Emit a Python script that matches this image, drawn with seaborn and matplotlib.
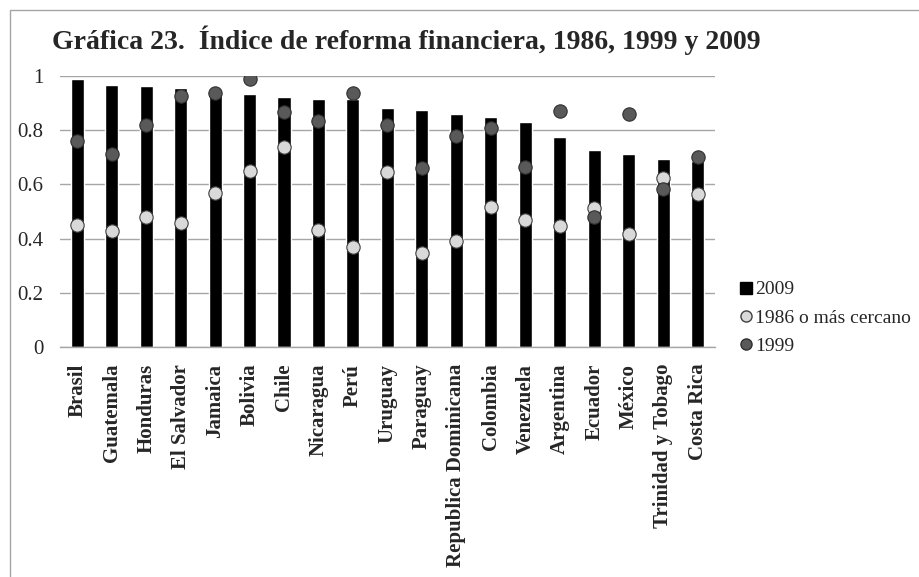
import numpy as np
import pandas as pd
import seaborn as sns
import matplotlib.pyplot as plt
from matplotlib.lines import Line2D
from matplotlib.patches import Rectangle

paises = ['Brasil', 'Guatemala', 'Honduras', 'El Salvador', 'Jamaica', 'Bolivia',
          'Chile', 'Nicaragua', 'Perú', 'Uruguay', 'Paraguay', 'Republica Dominicana',
          'Colombia', 'Venezuela', 'Argentina', 'Ecuador', 'México',
          'Trinidad y Tobago', 'Costa Rica']
v2009 = [0.99, 0.967, 0.963, 0.957, 0.95, 0.934, 0.924, 0.914, 0.915, 0.883,
         0.875, 0.861, 0.849, 0.829, 0.774, 0.728, 0.711, 0.692, 0.685]
v1986 = [0.450, 0.429, 0.479, 0.456, 0.569, 0.649, 0.737, 0.432, 0.370, 0.645,
         0.346, 0.392, 0.517, 0.468, 0.448, 0.512, 0.417, 0.622, 0.563]
v1999 = [0.760, 0.712, 0.820, 0.926, 0.938, 0.990, 0.867, 0.834, 0.936, 0.819,
         0.659, 0.779, 0.808, 0.665, 0.871, 0.479, 0.858, 0.584, 0.700]

df = pd.DataFrame({'pais': paises, 'v2009': v2009, 'v1986': v1986, 'v1999': v1999})

sns.set_style('white')
plt.rcParams['font.family'] = ['Liberation Serif', 'DejaVu Serif']

fig = plt.figure(figsize=(9.2, 5.77), dpi=100)
ax = fig.add_axes([0.0652, 0.3986, 0.7118, 0.4697])

sns.barplot(data=df, x='pais', y='v2009', color='black', width=0.38,
            saturation=1, ax=ax, zorder=2)
sns.stripplot(data=df, x='pais', y='v1986', jitter=False, color='#d9d9d9',
              size=9.6, edgecolor='#404040', linewidth=0.8, ax=ax, zorder=3)
sns.stripplot(data=df, x='pais', y='v1999', jitter=False, color='#595959',
              size=9.6, edgecolor='#303030', linewidth=0.8, ax=ax, zorder=4)

n = len(paises)
ax.set_xlim(-0.5, n - 0.5)
ax.set_ylim(0, 1)
ax.set_yticks(np.arange(0, 1.01, 0.2))
ax.set_yticklabels(['0', '0.2', '0.4', '0.6', '0.8', '1'], fontsize=15)
ax.yaxis.grid(True, color='#a6a6a6', linewidth=1)
ax.set_axisbelow(True)
ax.tick_params(axis='y', length=0, pad=12)

ax.set_xticks(np.arange(n))
ax.set_xticklabels(paises, rotation=90, fontsize=15, fontweight='bold')
ax.set_xticks(np.arange(-0.5, n, 1), minor=True)
ax.tick_params(axis='x', which='major', length=0, pad=12)
ax.tick_params(axis='x', which='minor', length=5, color='#a6a6a6', width=1)
ax.set_xlabel('')
ax.set_ylabel('')

for s in ['top', 'right', 'left']:
    ax.spines[s].set_visible(False)
ax.spines['bottom'].set_color('#a6a6a6')
ax.spines['bottom'].set_linewidth(1)

fig.text(0.057, 0.930, 'Gráfica 23.  Índice de reforma financiera, 1986, 1999 y 2009',
         fontsize=20, fontweight='bold', va='center', ha='left')

handles = [
    Line2D([], [], marker='s', linestyle='', color='black', markersize=8),
    Line2D([], [], marker='o', linestyle='', markerfacecolor='#d9d9d9',
           markeredgecolor='#404040', markersize=8),
    Line2D([], [], marker='o', linestyle='', markerfacecolor='#595959',
           markeredgecolor='#303030', markersize=8),
]
fig.legend(handles, ['2009', '1986 o más cercano', '1999'], loc='center left',
           bbox_to_anchor=(0.786, 0.449), frameon=False, fontsize=14,
           handlelength=0.6, handletextpad=0.15, labelspacing=0.55)

fig.patches.append(Rectangle((10 / 920, -0.1), 1.2, 1 - 10 / 577 + 0.1,
                             transform=fig.transFigure, fill=False,
                             edgecolor='#a6a6a6', linewidth=1))

plt.savefig('out.png', dpi=100)
